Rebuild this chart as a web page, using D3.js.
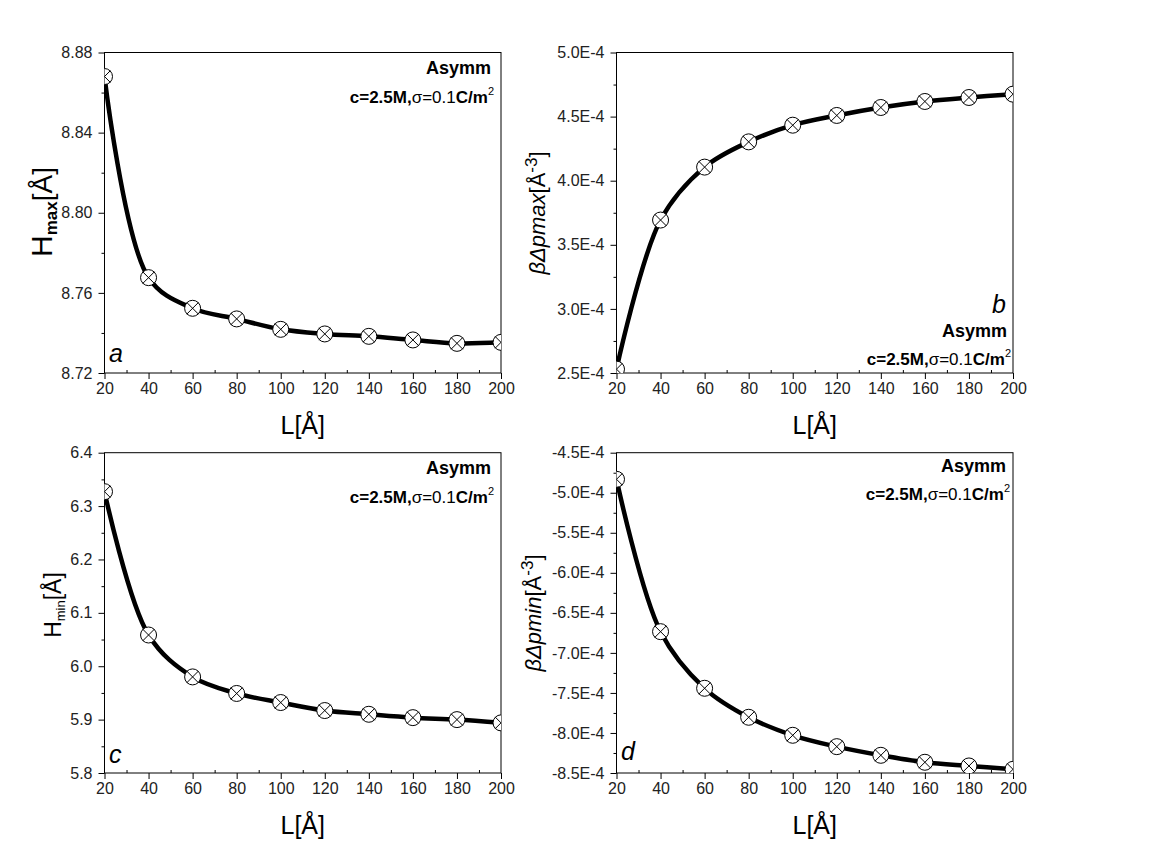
<!DOCTYPE html>
<html><head><meta charset="utf-8">
<script src="https://cdn.jsdelivr.net/npm/d3@7"></script>
<style>
body{margin:0;background:#fff}
text{font-family:Arial,"Liberation Sans",sans-serif}
</style>
</head><body>
<svg id="chart" width="1152" height="849"></svg>
<script>
// ---- data ----
const L = [20, 40, 60, 80, 100, 120, 140, 160, 180, 200];
const hMax = [8.868, 8.7676, 8.7523, 8.747, 8.7418, 8.7395, 8.7383, 8.7365, 8.7348, 8.7353];
const dpMax = [2.53e-4, 3.693e-4, 4.106e-4, 4.303e-4, 4.433e-4, 4.509e-4, 4.571e-4, 4.618e-4, 4.649e-4, 4.675e-4];
const hMin = [6.327, 6.0585, 5.980, 5.949, 5.932, 5.917, 5.910, 5.9037, 5.900, 5.8939];
const dpMin = [-4.832e-4, -6.735e-4, -7.442e-4, -7.804e-4, -8.029e-4, -8.171e-4, -8.279e-4, -8.366e-4, -8.412e-4, -8.454e-4];

const xTicks = [20, 40, 60, 80, 100, 120, 140, 160, 180, 200];
const xMinor = [30, 50, 70, 90, 110, 130, 150, 170, 190];
const yTicksA = [8.72, 8.76, 8.80, 8.84, 8.88];
const yMinorA = [8.74, 8.78, 8.82, 8.86];
const yTicksB = [2.5e-4, 3.0e-4, 3.5e-4, 4.0e-4, 4.5e-4, 5.0e-4];
const yMinorB = [2.75e-4, 3.25e-4, 3.75e-4, 4.25e-4, 4.75e-4];
const yTicksC = [5.8, 5.9, 6.0, 6.1, 6.2, 6.3, 6.4];
const yMinorC = [5.85, 5.95, 6.05, 6.15, 6.25, 6.35];
const yTicksD = [-8.5e-4, -8.0e-4, -7.5e-4, -7.0e-4, -6.5e-4, -6.0e-4, -5.5e-4, -5.0e-4, -4.5e-4];
const yMinorD = [-8.25e-4, -7.75e-4, -7.25e-4, -6.75e-4, -6.25e-4, -5.75e-4, -5.25e-4, -4.75e-4];

const eFmt = v => (v * 1e4).toFixed(1) + "E-4";

const svg = d3.select("#chart");
svg.append("rect").attr("width", 1152).attr("height", 849).attr("fill", "#fff");

const panels = [
  {id: "a", vals: hMax, xr: [104.5, 501], yr: [373, 52.5], dom: [8.72, 8.88], ticks: yTicksA, minor: yMinorA, fmt: d3.format(".2f"),
   letter: {x: 109, y: 362, anchor: "start"}, asymm: {x: 491, y: 74}, note: {x: 494, y: 103}, xt: 434, ylab: "Hmax"},
  {id: "b", vals: dpMax, xr: [616.5, 1013], yr: [373, 52.5], dom: [2.5e-4, 5.0e-4], ticks: yTicksB, minor: yMinorB, fmt: eFmt,
   letter: {x: 1006, y: 313, anchor: "end"}, asymm: {x: 1007, y: 337}, note: {x: 1011, y: 365}, xt: 434, ylab: "dpmax"},
  {id: "c", vals: hMin, xr: [104.5, 501], yr: [773, 452.7], dom: [5.8, 6.4], ticks: yTicksC, minor: yMinorC, fmt: d3.format(".1f"),
   letter: {x: 109, y: 763, anchor: "start"}, asymm: {x: 491, y: 474}, note: {x: 494, y: 503}, xt: 834, ylab: "Hmin"},
  {id: "d", vals: dpMin, xr: [616.5, 1013], yr: [773, 452.7], dom: [-8.5e-4, -4.5e-4], ticks: yTicksD, minor: yMinorD, fmt: eFmt,
   letter: {x: 621, y: 760, anchor: "start"}, asymm: {x: 1006, y: 472}, note: {x: 1010, y: 500}, xt: 834, ylab: "dpmin"}
];

panels.forEach(p => {
  const x = d3.scaleLinear().domain([20, 200]).range(p.xr);
  const y = d3.scaleLinear().domain(p.dom).range(p.yr);
  const g = svg.append("g");
  const x0 = p.xr[0], x1 = p.xr[1], yT = p.yr[1], yB = p.yr[0];

  const clipId = "clip-" + p.id;
  svg.append("clipPath").attr("id", clipId).append("rect")
    .attr("x", x0).attr("y", yT).attr("width", x1 - x0).attr("height", yB - yT);

  g.append("g").attr("transform", `translate(0,${yB})`)
    .call(d3.axisBottom(x).tickValues(xTicks).tickSize(6).tickPadding(4).tickFormat(d3.format("d")));
  g.append("g").attr("transform", `translate(0,${yB})`)
    .call(d3.axisBottom(x).tickValues(xMinor).tickSizeInner(-3).tickSizeOuter(0).tickFormat(""));
  g.append("g").attr("transform", `translate(${x0},0)`)
    .call(d3.axisLeft(y).tickValues(p.ticks).tickSize(6).tickPadding(6).tickFormat(p.fmt));
  g.append("g").attr("transform", `translate(${x0},0)`)
    .call(d3.axisLeft(y).tickValues(p.minor).tickSize(3).tickFormat(""));
  g.selectAll(".domain").remove();
  g.selectAll(".tick line").attr("stroke", "#000");
  g.selectAll(".tick text").attr("font-size", 16).attr("fill", "#222")
    .attr("font-family", "Arial, 'Liberation Sans', sans-serif");

  g.append("rect").attr("x", x0).attr("y", yT).attr("width", x1 - x0).attr("height", yB - yT)
    .attr("fill", "none").attr("stroke", "#000").attr("stroke-width", 1);

  const pts = L.map((l, i) => [l, p.vals[i]]);
  const plot = g.append("g").attr("clip-path", `url(#${clipId})`);
  plot.append("path").datum(pts)
    .attr("d", d3.line().x(d => x(d[0])).y(d => y(d[1])).curve(d3.curveCatmullRom.alpha(0.5)))
    .attr("fill", "none").attr("stroke", "#000").attr("stroke-width", 4.5).attr("stroke-linejoin", "round");
  const r = 8, k = r * 0.74;
  const m = plot.selectAll("g.mk").data(pts).join("g").attr("class", "mk")
    .attr("transform", d => `translate(${x(d[0])},${y(d[1])})`);
  m.append("circle").attr("r", r).attr("fill", "#fff").attr("stroke", "#000").attr("stroke-width", 1);
  m.append("path").attr("d", `M${-k},${-k}L${k},${k}M${-k},${k}L${k},${-k}`).attr("stroke", "#000").attr("stroke-width", 1);

  g.append("text").attr("x", (x0 + x1) / 2).attr("y", p.xt).attr("text-anchor", "middle")
    .attr("font-size", 25).text("L[Å]");

  if (p.ylab === "Hmax") {
    const t = g.append("text").attr("transform", "translate(52,212) rotate(-90)").attr("text-anchor", "middle");
    t.append("tspan").attr("font-size", 30).text("H");
    t.append("tspan").attr("font-size", 17).attr("font-weight", "bold").attr("dy", 5).text("max");
    t.append("tspan").attr("font-size", 28).attr("dy", -5).text("[Å]");
  } else if (p.ylab === "Hmin") {
    const t = g.append("text").attr("transform", "translate(61,605) rotate(-90)").attr("text-anchor", "middle");
    t.append("tspan").attr("font-size", 23).text("H");
    t.append("tspan").attr("font-size", 13).attr("dy", 4).text("min");
    t.append("tspan").attr("font-size", 23).attr("dy", -4).text("[Å]");
  } else {
    const isMax = p.ylab === "dpmax";
    const tx = isMax ? 545 : 541, ty = isMax ? 213 : 613;
    const t = g.append("text").attr("transform", `translate(${tx},${ty}) rotate(-90)`).attr("text-anchor", "middle").attr("font-size", 22);
    t.append("tspan").attr("font-style", "italic").text(isMax ? "βΔpmax" : "βΔpmin");
    t.append("tspan").text("[Å");
    t.append("tspan").attr("font-size", 17).attr("dy", -8).text("-3");
    t.append("tspan").attr("dy", 8).text("]");
  }

  g.append("text").attr("x", p.letter.x).attr("y", p.letter.y).attr("text-anchor", p.letter.anchor)
    .attr("font-size", 25).attr("font-style", "italic").text(p.id);

  g.append("text").attr("x", p.asymm.x).attr("y", p.asymm.y).attr("text-anchor", "end")
    .attr("font-size", 18).attr("font-weight", "bold").text("Asymm");
  const n = g.append("text").attr("x", p.note.x).attr("y", p.note.y).attr("text-anchor", "end").attr("font-size", 17);
  n.append("tspan").attr("font-weight", "bold").text("c=2.5M,");
  n.append("tspan").text("σ=0.1");
  n.append("tspan").attr("font-weight", "bold").text("C/m");
  n.append("tspan").attr("font-size", 11).attr("dy", -8).text("2");
});
</script>
</body></html>
